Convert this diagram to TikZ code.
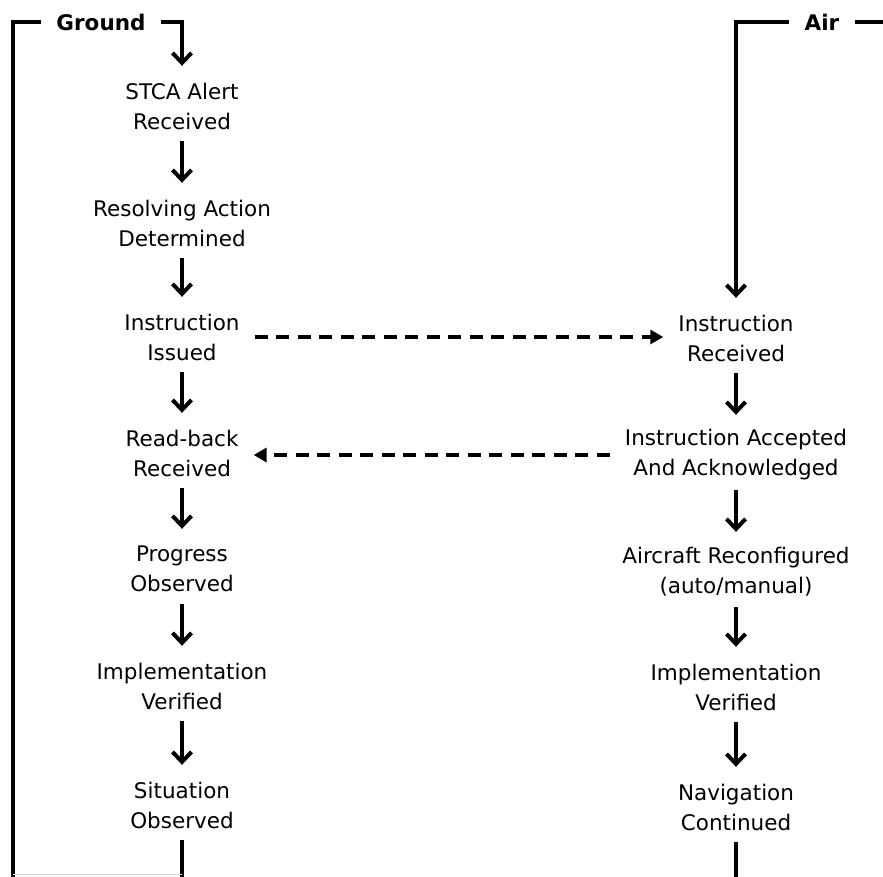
\documentclass[tikz,border=0pt]{standalone}
\usepackage{fontspec}
\setmainfont{DejaVu Sans}
\usetikzlibrary{arrows.meta}
\begin{document}
\begin{tikzpicture}[x=1pt,y=-1pt,
  stepnode/.style={align=center, inner sep=0pt, minimum height=70pt, font=\fontsize{21.5}{30}\selectfont},
  barb/.style={-{Straight Barb[length=10pt,width=19pt,line width=4pt]}, shorten >=5pt},
  flow/.style={line width=3.3pt, barb},
  msg/.style={line width=3.8pt, dash pattern=on 13pt off 8.5pt, -{Triangle[length=13pt,width=14pt]}, shorten >=15pt, shorten <=15pt},
  frame/.style={line width=3.8pt, line join=miter},
  lbl/.style={font=\fontsize{21.5}{30}\selectfont\bfseries, inner xsep=15.5pt, inner ysep=0pt}]
\useasboundingbox (0,0) rectangle (883,876);

% Ground column
\node[stepnode] (g1) at (182,106) {STCA Alert\\Received};
\node[stepnode] (g2) at (182,223) {Resolving Action\\Determined};
\node[stepnode] (g3) at (182,337) {Instruction\\Issued};
\node[stepnode] (g4) at (182,453) {Read-back\\Received};
\node[stepnode] (g5) at (182,569) {Progress\\Observed};
\node[stepnode] (g6) at (182,686) {Implementation\\Verified};
\node[stepnode] (g7) at (182,805) {Situation\\Observed};

% Air column
\node[stepnode] (a1) at (736,338) {Instruction\\Received};
\node[stepnode] (a2) at (736,455) {Instruction Accepted\\And Acknowledged};
\node[stepnode] (a3) at (736,572) {Aircraft Reconfigured\\(auto/manual)};
\node[stepnode] (a4) at (736,687) {Implementation\\Verified};
\node[stepnode] (a5) at (736,807) {Navigation\\Continued};

% labels
\node[lbl] (ground) at (101,22) {Ground};
\node[lbl] (air) at (822,22) {Air};

% vertical flows
\draw[flow] (g1) -- (g2);
\draw[flow] (g2) -- (g3);
\draw[flow] (g3) -- (g4);
\draw[flow] (g4) -- (g5);
\draw[flow] (g5) -- (g6);
\draw[flow] (g6) -- (g7);
\draw[flow] (a1) -- (a2);
\draw[flow] (a2) -- (a3);
\draw[flow] (a3) -- (a4);
\draw[flow] (a4) -- (a5);

% messages
\draw[msg] (g3.east) -- (g3.east -| a1.west);
\draw[msg] (a2.west) -- (a2.west -| g4.east);

% frames
\coordinate (gc) at (182,22);
\coordinate (lb) at (182,879.5);
\coordinate (lbl) at (13,879.5);
\coordinate (ltl) at (13,22);
\draw[frame, barb] (ground.east) -- (gc) -- (g1.north);
\draw[frame] (g7.south) -- (lb) -- (lbl) -- (ltl) -- (ground.west);
\draw[gray!30, line width=0.8pt] (lbl) ++(0,-4.8) -- ++(169,0);

\coordinate (ac) at (736,22);
\coordinate (ar) at (890,22);
\coordinate (rb) at (736,880);
\draw[frame, barb] (air.west) -- (ac) -- (a1.north);
\draw[frame] (air.east) -- (ar);
\draw[frame] (a5.south) -- (rb);
\end{tikzpicture}
\end{document}
